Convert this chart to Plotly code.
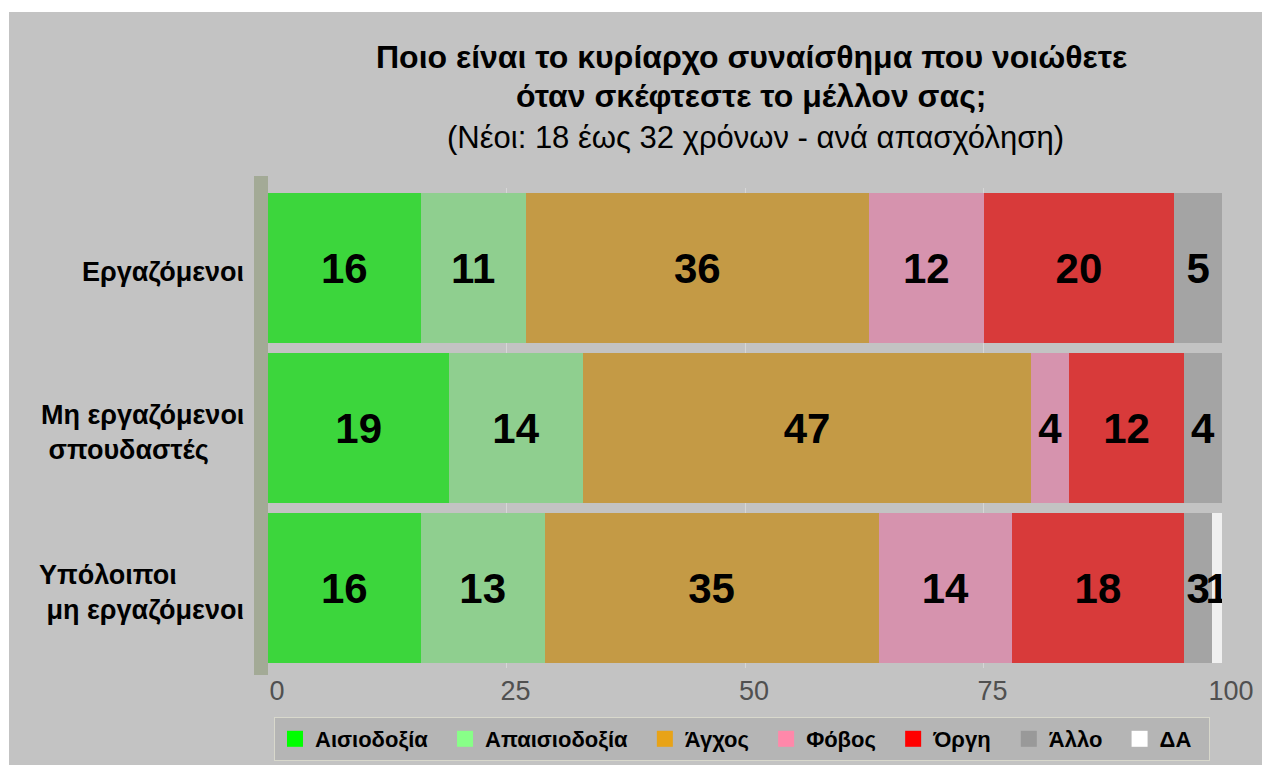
import plotly.graph_objects as go

# Δεδομένα
kategories = ["Εργαζόμενοι", "Μη εργαζόμενοι σπουδαστές", "Υπόλοιποι μη εργαζόμενοι"]
etiketes_y = ["Εργαζόμενοι", "Μη εργαζόμενοι<br>\u00a0σπουδαστές", "Υπόλοιποι<br>\u00a0μη εργαζόμενοι"]
synaisthimata = ["Αισιοδοξία", "Απαισιοδοξία", "Άγχος", "Φόβος", "Όργη", "Άλλο", "ΔΑ"]

aisiodoxia = [16, 19, 16]
apaisiodoxia = [11, 14, 13]
agxos = [36, 47, 35]
fovos = [12, 4, 14]
orgi = [20, 12, 18]
allo = [5, 4, 3]
da = [0, 0, 1]

times = [aisiodoxia, apaisiodoxia, agxos, fovos, orgi, allo, da]

# Χρώματα μπαρών και υπομνήματος
xromata = ["#3CD63C", "#8FCF8F", "#C49A45", "#D693AE", "#D83A3A", "#A4A4A4", "#F0F0F0"]
xromata_legend = ["#00FF00", "#88FF88", "#E8A317", "#FF88AA", "#FF0000", "#999999", "#FFFFFF"]

FONT = "Liberation Sans, Arial, sans-serif"

W, H = 1262, 765
L, R, T, B = 268, 40, 188, 97
PW = W - L - R
PH = H - T - B


def px_(xpix):
    # θέση pixel (από αριστερά) σε συντεταγμένες paper
    return (xpix - L) / PW


def py(ypix):
    # θέση pixel (από πάνω) σε συντεταγμένες paper
    return (H - B - ypix) / PH


fig = go.Figure()

for onoma, t, xr in zip(synaisthimata, times, xromata):
    fig.add_trace(go.Bar(
        y=kategories, x=t, name=onoma, orientation="h",
        marker=dict(color=xr, line=dict(width=0)),
        text=[str(v) if v > 0 else "" for v in t],
        textposition="inside", insidetextanchor="middle",
        textfont=dict(family=FONT, size=42, color="black", weight="bold"),
        constraintext="none",
        showlegend=False,
        hoverinfo="x+name",
    ))

# Υπόμνημα με μεγαλύτερα τετράγωνα
for onoma, xr in zip(synaisthimata, xromata_legend):
    fig.add_trace(go.Scatter(
        x=[None], y=[None], mode="markers", name=onoma + "\u00a0\u00a0",
        marker=dict(symbol="square", size=20, color=xr, line=dict(width=0)),
        showlegend=True,
    ))

fig.update_layout(
    width=W, height=H,
    barmode="stack", bargap=0.06,
    paper_bgcolor="#C3C3C3",
    plot_bgcolor="rgba(0,0,0,0)",
    margin=dict(l=L, r=R, t=T, b=B, autoexpand=False),
    font=dict(family=FONT, color="black"),
    uniformtext=dict(minsize=42, mode="show"),
    xaxis=dict(
        range=[0, 100], tickvals=[0, 25, 50, 75, 100],
        showgrid=True, gridcolor="#D6D6D6", gridwidth=1,
        zeroline=False, showline=False,
        tickfont=dict(family=FONT, size=27, color="#505050"),
        ticklabelstandoff=4, ticklabelshift=9,
        fixedrange=True,
    ),
    yaxis=dict(
        categoryorder="array", categoryarray=kategories[::-1],
        showticklabels=False, showgrid=False, zeroline=False,
        fixedrange=True,
    ),
    legend=dict(
        orientation="h", traceorder="normal",
        x=px_(274), xanchor="left", y=py(717), yanchor="top",
        bgcolor="#B5B5B5", bordercolor="#D8D8CC", borderwidth=1,
        font=dict(family=FONT, size=22, color="black", weight="bold"),
        itemclick=False,
    ),
    shapes=[
        # λευκά περιθώρια πάνω και αριστερά
        dict(type="rect", xref="paper", yref="paper",
             x0=px_(-5), x1=px_(W + 5), y0=py(12), y1=py(-5),
             fillcolor="white", line=dict(width=0), layer="below"),
        dict(type="rect", xref="paper", yref="paper",
             x0=px_(-5), x1=px_(9), y0=py(H + 5), y1=py(-5),
             fillcolor="white", line=dict(width=0), layer="below"),
        # αριστερό τοίχωμα
        dict(type="rect", xref="paper", yref="paper",
             x0=px_(254), x1=0, y0=py(675), y1=py(176),
             fillcolor="#A3AA96", line=dict(width=0), layer="below"),
    ],
)

# Τίτλος
titlos = [
    ("<b>Ποιο είναι το κυρίαρχο συναίσθημα που νοιώθετε</b>", 57, 32, 751),
    ("<b>όταν σκέφτεστε το μέλλον σας;</b>", 96, 32, 751),
    ("(Νέοι: 18 έως 32 χρόνων - ανά απασχόληση)", 137, 31, 755),
]
for keimeno, ypix, mege, xpix in titlos:
    fig.add_annotation(
        text=keimeno, xref="paper", yref="paper",
        x=px_(xpix), y=py(ypix), xanchor="center", yanchor="middle",
        showarrow=False, font=dict(family=FONT, size=mege, color="black"),
    )

# Ετικέτες κατηγοριών
for kat, et in zip(kategories, etiketes_y):
    fig.add_annotation(
        text="<b>" + et + "</b>", xref="paper", yref="y",
        x=px_(246), y=kat, xanchor="right", yanchor="middle", align="left",
        yshift=-4, showarrow=False, font=dict(family=FONT, size=27, color="black"),
    )

fig.write_html(
    "out.html",
    config={"displayModeBar": False},
    post_script="document.body.style.margin='0';document.body.style.overflow='hidden';",
)
